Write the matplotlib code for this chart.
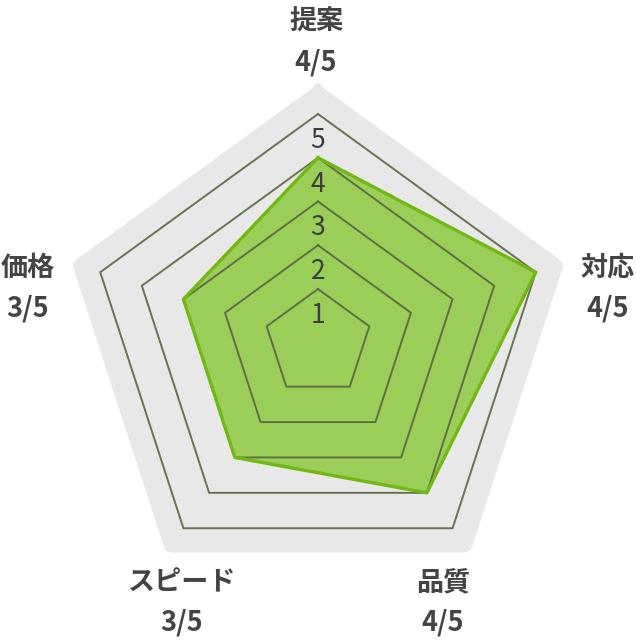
import numpy as np
import matplotlib
matplotlib.use("Agg")
import matplotlib.pyplot as plt

plt.rcParams['font.family'] = ['Noto Sans CJK JP', 'DejaVu Sans']

# radar values (as drawn) and the labels under each axis
categories = ["提案", "対応", "品質", "スピード", "価格"]
values = [4, 5, 4, 3, 3]
score_labels = ["4/5", "4/5", "4/5", "3/5", "3/5"]
ring_levels = [1, 2, 3, 4, 5]

# label anchor points in pixels (x, y from top)
label_pos = [(316, 22), (608, 268), (443, 582), (182, 582), (28, 268)]

TEXT = "#444444"
GRID = "#5a6640"
GREEN = "#7cc520"
GREEN_EDGE = "#72b814"
BG = "#e8e8e8"

W, H = 636, 642
fig = plt.figure(figsize=(W / 100, H / 100), dpi=100)
ax = fig.add_axes([0.0918, 0.0614, 0.8164, 0.8087], projection="polar")
ax.set_theta_zero_location("N")
ax.set_theta_direction(-1)
ax.set_ylim(-0.234, 5.7)
ax.set_xticks([])
ax.set_yticks([])
ax.grid(False)
for sp in ax.spines.values():
    sp.set_visible(False)
ax.patch.set_alpha(0)

n = len(categories)
theta = np.linspace(0, 2 * np.pi, n, endpoint=False)
theta_c = np.append(theta, theta[0])

# grey backdrop pentagon with rounded corners
bg_r = np.full(n + 1, 5.45)
ax.fill(theta_c, bg_r, color=BG, zorder=0)
ax.plot(theta_c, bg_r, color=BG, lw=12, solid_joinstyle="round", zorder=0)

# data polygon fill
vals = np.append(values, values[0])
ax.fill(theta_c, vals, color=GREEN, alpha=0.72, zorder=1)

# rings
for lv in ring_levels:
    ax.plot(theta_c, np.full(n + 1, lv), color=GRID, lw=1.4, alpha=0.9,
            solid_joinstyle="round", zorder=2)

ax.plot(theta_c, vals, color=GREEN_EDGE, lw=2.4, solid_joinstyle="round", zorder=3)

# ring numbers
for lv in ring_levels:
    ax.text(0, lv - 0.6, str(lv), ha="center", va="center", fontsize=19,
            color="#3c3c3c", zorder=4)

# axis labels
for name, score, (px, py) in zip(categories, score_labels, label_pos):
    fig.text(px / W, 1 - py / H, name, ha="center", va="center",
             fontsize=19.5, fontweight="bold", color=TEXT)
    fig.text(px / W, 1 - (py + 40) / H, score, ha="center", va="center",
             fontsize=19.5, fontweight="bold", color=TEXT)

fig.savefig("out.png", dpi=100)
